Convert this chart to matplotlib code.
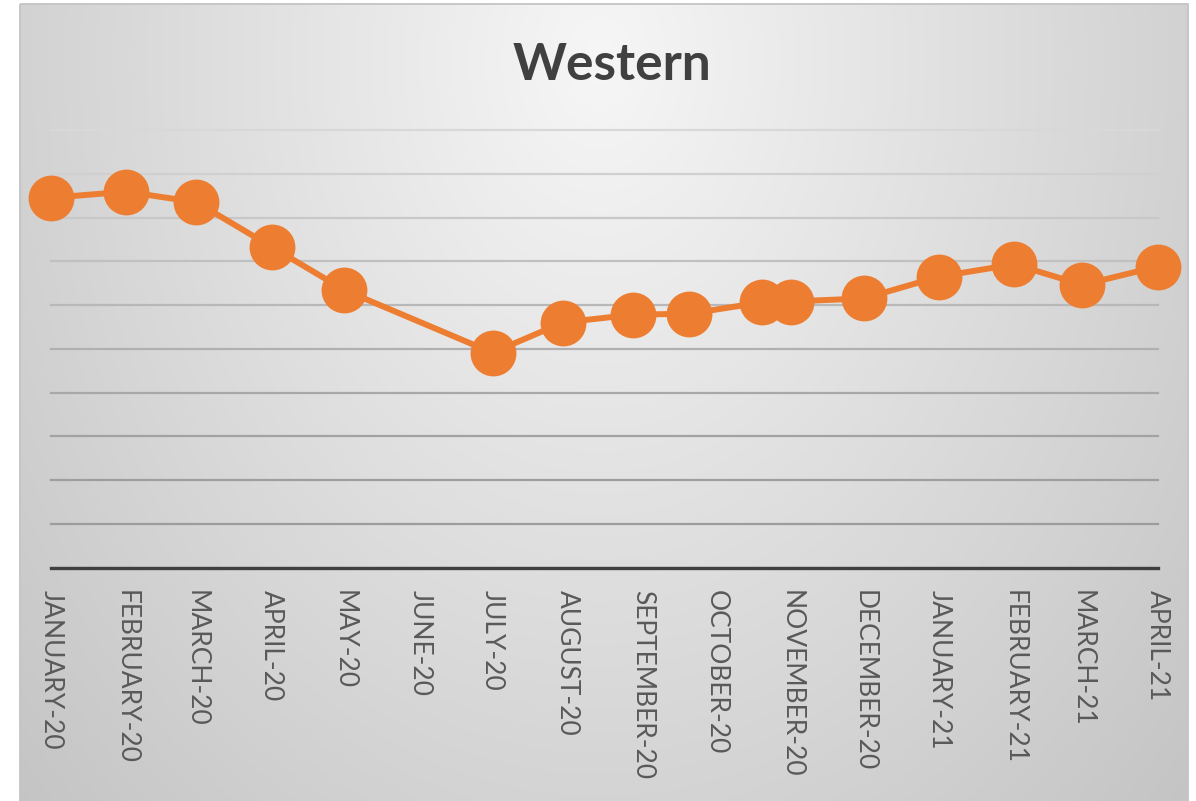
import matplotlib
matplotlib.use("Agg")
import matplotlib.pyplot as plt
from matplotlib.patches import Rectangle
import numpy as np

# ---- data ----
title = "Western"
point_dates = ["2020-01-01", "2020-02-01", "2020-03-01", "2020-04-01", "2020-05-01",
               "2020-07-01", "2020-07-30", "2020-08-28", "2020-09-20", "2020-10-20",
               "2020-11-01", "2020-12-01", "2021-01-01", "2021-02-01", "2021-03-01",
               "2021-04-01"]
values = [8.45, 8.59, 8.35, 7.33, 6.34, 4.91, 5.60, 5.78, 5.80, 6.06,
          6.08, 6.15, 6.65, 6.93, 6.46, 6.88]
tick_dates = ["2020-01-01", "2020-02-01", "2020-03-01", "2020-04-01", "2020-05-01",
              "2020-06-01", "2020-07-01", "2020-08-01", "2020-09-01", "2020-10-01",
              "2020-11-01", "2020-12-01", "2021-01-01", "2021-02-01", "2021-03-01",
              "2021-04-01"]
tick_labels = ["JANUARY-20", "FEBRUARY-20", "MARCH-20", "APRIL-20", "MAY-20",
               "JUNE-20", "JULY-20", "AUGUST-20", "SEPTEMBER-20", "OCTOBER-20",
               "NOVEMBER-20", "DECEMBER-20", "JANUARY-21", "FEBRUARY-21", "MARCH-21",
               "APRIL-21"]
y_ticks = list(range(0, 11))

W, H = 1196, 801
fig = plt.figure(figsize=(W / 100, H / 100), dpi=100)
fig.patch.set_facecolor("white")

# ---- background (chart area with radial gradient) ----
bg = fig.add_axes([0, 0, 1, 1], zorder=0)
bg.set_xlim(0, W)
bg.set_ylim(H, 0)
bg.axis("off")
x0, x1, y0, y1 = 20, 1188, 4, 801
xs = np.linspace(x0, x1, 400)
ys = np.linspace(y0, y1, 300)
XX, YY = np.meshgrid(xs, ys)
r = np.sqrt(((XX - 600) / 600.0) ** 2 + ((YY - 60) / 800.0) ** 2)
bright = np.clip(0.965 - 0.145 * r, 0, 1)
img = np.dstack([bright, bright, bright])
bg.imshow(img, extent=(x0, x1, y1, y0), origin="upper", aspect="auto",
          interpolation="bilinear", zorder=0)
bg.add_patch(Rectangle((x0, y0), x1 - x0, y1 - y0 + 5, fill=False,
                       edgecolor="#c4c4c4", linewidth=1.3, zorder=1))

# ---- main plot ----
left, right = 50.7, 1157.7
top, base = 130.0, 567.5
ax = fig.add_axes([left / W, (H - base) / H, (right - left) / W, (base - top) / H], zorder=2)
ax.patch.set_alpha(0)

xd = np.array(point_dates, dtype="datetime64[D]")
td = np.array(tick_dates, dtype="datetime64[D]")

ax.plot(xd, values, color="#ED7D31", linewidth=4.3, marker="o", markersize=33,
        markeredgewidth=0, clip_on=False, zorder=3)

ax.set_xlim(td[0], td[-1])
ax.set_ylim(0, 10)
ax.set_yticks(y_ticks)
ax.set_yticklabels([])
ax.tick_params(axis="y", length=0)
ax.yaxis.grid(True, linewidth=1.6)
grid_cols = ["#a8a8a8", "#9c9c9c", "#9e9e9e", "#a2a2a2", "#a8a8a8", "#b0b0b0",
             "#b8b8b8", "#c0c0c0", "#c8c8c8", "#d0d0d0", "#d8d8d8"]
for gl, c in zip(ax.get_ygridlines(), grid_cols):
    gl.set_color(c)
    gl.set_clip_on(False)
ax.set_axisbelow(True)

ax.set_xticks(td)
ax.set_xticklabels(tick_labels, rotation=270, family="Lato", fontsize=19,
                   color="#595959", ha="center", va="top")
ax.tick_params(axis="x", length=0, pad=16)

for s in ["top", "left", "right"]:
    ax.spines[s].set_visible(False)
ax.spines["bottom"].set_color("#404040")
ax.spines["bottom"].set_linewidth(2.4)
ax.spines["bottom"].set_zorder(2.5)

fig.text(612 / W, 1 - 65 / H, title, family="Lato", fontweight="bold",
         fontsize=37, color="#404040", ha="center", va="center")

fig.savefig("out.png", dpi=100)
